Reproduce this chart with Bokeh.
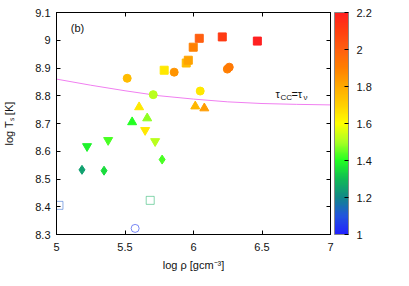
import numpy as np
from bokeh.plotting import figure
from bokeh.models import (LinearColorMapper, ColorBar, FixedTicker, LinearAxis, Label,
                          CustomJSTickFormatter, Range1d, ColumnDataSource)
from bokeh.transform import transform
from bokeh.embed import file_html
from bokeh.resources import INLINE

# ---- data ----
circ_rho = [5.516, 5.859, 5.706, 6.049, 6.247, 6.261]
circ_T = [8.863, 8.885, 8.804, 8.817, 8.896, 8.903]
circ_M = [1.75, 1.85, 1.52, 1.65, 1.90, 1.92]

sq_rho = [5.786, 5.947, 5.962, 5.998, 6.042, 6.210, 6.466]
sq_T = [8.892, 8.918, 8.928, 8.975, 9.007, 9.012, 8.997]
sq_M = [1.65, 1.75, 1.82, 1.90, 2.00, 2.12, 2.20]

up_rho = [5.603, 5.662, 5.552, 6.013, 6.079]
up_T = [8.759, 8.719, 8.705, 8.762, 8.755]
up_M = [1.65, 1.48, 1.40, 1.76, 1.83]

dn_rho = [5.647, 5.377, 5.223, 5.720]
dn_T = [8.676, 8.640, 8.618, 8.636]
dn_M = [1.65, 1.43, 1.38, 1.52]

dia_rho = [5.186, 5.347, 5.771]
dia_T = [8.533, 8.530, 8.570]
dia_M = [1.25, 1.35, 1.43]

osq_rho = [5.018, 5.684]
osq_T = [8.405, 8.423]
osq_M = [1.12, 1.28]

ocirc_rho = [5.574]
ocirc_T = [8.322]
ocirc_M = [1.05]

line_rho = [5.0, 5.25, 5.5, 5.75, 6.0, 6.25, 6.5, 6.75, 7.0]
line_T = [8.860, 8.838, 8.818, 8.800, 8.788, 8.778, 8.772, 8.769, 8.767]

x_ticks = [5, 5.5, 6, 6.5, 7]
y_ticks = [8.3, 8.4, 8.5, 8.6, 8.7, 8.8, 8.9, 9.0, 9.1]
cb_ticks = [1.0, 1.2, 1.4, 1.6, 1.8, 2.0, 2.2]
M_low, M_high = 1.0, 2.2

# ---- palette ----
anchor_M = [1.0, 1.1, 1.2, 1.3, 1.4, 1.5, 1.6, 1.7, 1.8, 1.9, 2.0, 2.1, 2.2]
anchor_hex = ["#2222ff", "#2255dd", "#118888", "#11bb55", "#22ff22", "#aaff22",
              "#ffff00", "#ffd000", "#ffaa00", "#ff8000", "#ff6010", "#ff4010", "#ff2020"]
rgb = np.array([[int(h[i:i + 2], 16) for i in (1, 3, 5)] for h in anchor_hex], float)
grid = np.linspace(M_low, M_high, 256)
palette = []
for g in grid:
    c = [np.interp(g, anchor_M, rgb[:, k]) for k in range(3)]
    palette.append("#%02x%02x%02x" % tuple(int(round(v)) for v in c))

mapper = LinearColorMapper(palette=palette, low=M_low, high=M_high)

FONT = "Liberation Sans"
fmt = CustomJSTickFormatter(code="return String(Math.round(tick*100)/100);")
blank = CustomJSTickFormatter(code="return '';")

p = figure(frame_width=274, frame_height=222, output_backend="svg", toolbar_location=None,
           x_range=Range1d(5, 7), y_range=Range1d(8.3, 9.1),
           min_border_left=56, min_border_top=12, min_border_right=66, min_border_bottom=38)
p.xgrid.visible = False
p.ygrid.visible = False
p.outline_line_color = "black"
p.outline_line_width = 1
p.background_fill_color = "white"
p.border_fill_color = "white"

def style_axis(ax, labels=True):
    ax.major_tick_in = 4
    ax.major_tick_out = 0
    ax.minor_tick_line_color = None
    ax.axis_line_color = "black"
    ax.major_tick_line_color = "black"
    ax.formatter = fmt if labels else blank
    ax.major_label_text_font = FONT
    ax.major_label_text_font_size = "11px"
    ax.major_label_text_color = "#111111"
    ax.axis_label_text_font = FONT
    ax.axis_label_text_font_size = "11px"
    ax.axis_label_text_font_style = "normal"
    ax.axis_label_text_color = "#111111"
    if not labels:
        ax.major_label_standoff = 0

p.xaxis.ticker = FixedTicker(ticks=x_ticks)
p.yaxis.ticker = FixedTicker(ticks=y_ticks)
style_axis(p.xaxis[0])
style_axis(p.yaxis[0])
p.xaxis.axis_label = "log ρ [gcm⁻³]"
p.yaxis.axis_label = "log Tₛ [K]"
p.xaxis.major_label_standoff = 8
p.xaxis.axis_label_standoff = 5
p.yaxis.major_label_standoff = 6
p.yaxis.axis_label_standoff = 17

# mirrored inward ticks (top and right)
top_ax = LinearAxis(ticker=FixedTicker(ticks=x_ticks))
style_axis(top_ax, labels=False)
p.add_layout(top_ax, "above")
right_ax = LinearAxis(ticker=FixedTicker(ticks=y_ticks))
style_axis(right_ax, labels=False)
p.add_layout(right_ax, "right")
# invisible spacer axis: gap between frame and colour bar
spacer_ax = LinearAxis(ticker=FixedTicker(ticks=y_ticks))
style_axis(spacer_ax, labels=False)
spacer_ax.major_tick_in = 0
spacer_ax.major_tick_out = 4
spacer_ax.major_tick_line_color = None
spacer_ax.axis_line_color = None
p.add_layout(spacer_ax, "right")

# curve
p.line(line_rho, line_T, line_color="#f07ff0", line_width=1)

def src(x, y, m):
    return ColumnDataSource(dict(x=x, y=y, M=m))

cm = transform("M", mapper)
p.scatter("x", "y", source=src(circ_rho, circ_T, circ_M), marker="circle", size=8,
          fill_color=cm, line_color=cm)
p.scatter("x", "y", source=src(sq_rho, sq_T, sq_M), marker="square", size=8,
          fill_color=cm, line_color=cm)
p.scatter("x", "y", source=src(up_rho, up_T, up_M), marker="triangle", size=9,
          fill_color=cm, line_color=cm)
p.scatter("x", "y", source=src(dn_rho, dn_T, dn_M), marker="inverted_triangle", size=9,
          fill_color=cm, line_color=cm)
p.scatter("x", "y", source=src(dia_rho, dia_T, dia_M), marker="diamond", size=9,
          fill_color=cm, line_color=cm)
p.scatter("x", "y", source=src(osq_rho, osq_T, osq_M), marker="square", size=8,
          fill_color=None, line_color=cm, line_alpha=0.5, line_width=1)
p.scatter("x", "y", source=src(ocirc_rho, ocirc_T, ocirc_M), marker="circle", size=8,
          fill_color=None, line_color=cm, line_alpha=0.6, line_width=1)

# labels
p.add_layout(Label(x=5.104, y=9.044, text="(b)", text_font=FONT, text_font_size="11px",
                   text_color="#111111", text_baseline="alphabetic"))
tau_x, tau_y = 6.598, 8.806
for txt, dx, dy, fs in [("τ", 0, 0, "11px"), ("CC", 5, -3, "8px"),
                        ("=τ", 16, 0, "11px"), ("ν", 28, -3, "8px")]:
    p.add_layout(Label(x=tau_x, y=tau_y, x_offset=dx, y_offset=dy, text=txt,
                       text_font=FONT, text_font_size=fs, text_color="#111111",
                       text_baseline="alphabetic"))

cb = ColorBar(color_mapper=mapper, ticker=FixedTicker(ticks=cb_ticks), formatter=fmt,
              width=14, padding=0, margin=11, label_standoff=8,
              major_tick_in=4, major_tick_out=0, major_tick_line_color="black",
              minor_tick_line_color=None, bar_line_color="#888888",
              border_line_color=None, background_fill_color=None,
              major_label_text_font=FONT, major_label_text_font_size="11px",
              major_label_text_color="#111111")
p.add_layout(cb, "right")

p.add_layout(Label(x=7.417, y=8.7, text="Mₜₒₜ [Mₛᵤₙ]", angle=np.pi / 2,
                   text_font=FONT, text_font_size="11px", text_color="#111111",
                   text_align="center", text_baseline="middle"))

open("out.html", "w").write(file_html(p, INLINE))
